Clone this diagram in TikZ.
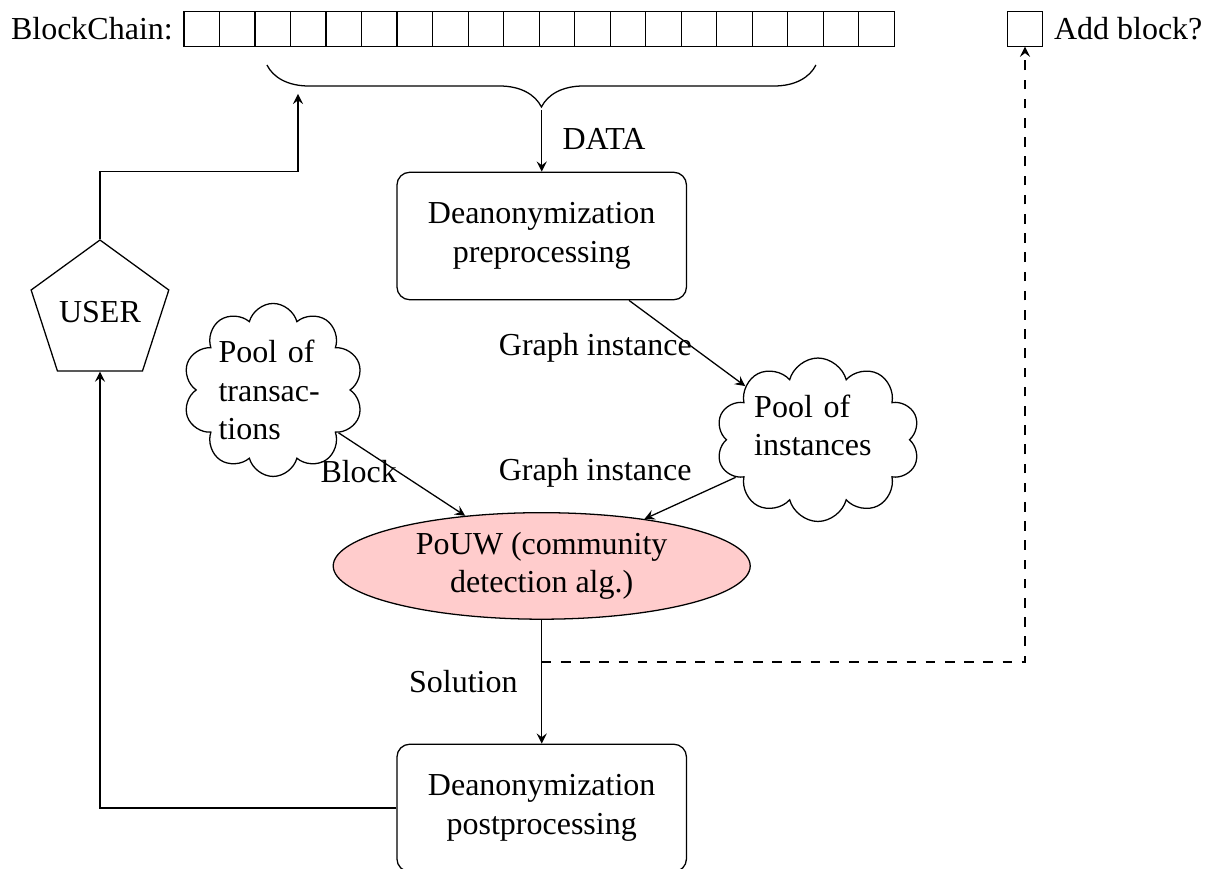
\documentclass[tikz,border=0pt]{standalone}
\usepackage{fontspec}
\setmainfont{Liberation Serif}
\usetikzlibrary{positioning,shapes.geometric,shapes.symbols,decorations.pathreplacing,calc,arrows}

\begin{document}
\begin{tikzpicture}[>=stealth,
  blk/.style={draw, minimum size=0.39cm, inner sep=0pt, outer sep=0pt},
  proc/.style={draw, rounded corners, align=center, minimum width=3.18cm, minimum height=1.4cm},
  pool/.style={draw, cloud, cloud puffs=10, cloud ignores aspect, inner sep=0pt, align=left}]
  \useasboundingbox (0,0) rectangle (13.356,-9.544);

  \node[blk] (b1) at (2.217,-0.318) {};
  \foreach \i in {2,...,20} {
    \pgfmathtruncatemacro{\j}{\i-1}
    \node[blk, right=0pt of b\j] (b\i) {};
  }
  \node (chainlbl) [left=0pt of b1] {BlockChain:};

  \node[blk] (addb) at (11.258,-0.318) {};
  \node (addlbl) [right=0pt of addb] {Add block?};

  \coordinate (bl) at (2.932,-0.714);
  \coordinate (br) at (8.962,-0.714);
  \coordinate (btip) at (5.95,-1.175);
  \coordinate (bin) at (3.273,-1.032);
  \draw [decorate, decoration={brace, mirror, amplitude=0.461cm}] (bl) -- (br);

  \node[proc] (pre) at (5.95,-2.592) {Deanonymization\\preprocessing};
  \node[proc] (post) at (5.95,-8.874) {Deanonymization\\postprocessing};

  \node[draw, regular polygon, regular polygon sides=5, minimum size=1.59cm, inner sep=0pt] (user) at (1.098,-3.431) {USER};

  \node[pool, text width=1.2cm, minimum width=1.9cm, minimum height=1.9cm] (trans) at (3.0,-4.283) {Pool of transactions};
  \node[pool, text width=1.4cm, text depth=21pt, minimum width=2.24cm, minimum height=1.78cm] (inst) at (8.984,-4.83) {Pool of instances};

  \node[draw, ellipse, fill=red!20, inner sep=1pt, align=center, minimum width=4.58cm, minimum height=1.17cm] (pouw) at (5.95,-6.216) {PoUW (community\\detection alg.)};

  \draw [->, shorten <=1pt] (btip) -- (pre) node[midway, right=3pt] {DATA};
  \draw [->] (user.corner 1) -- (user.corner 1 |- pre.north) -| (bin);
  \draw [->] (pre) -- (inst) node[midway, left=-5pt, yshift=-1.5pt] {Graph instance};
  \draw [->] (trans) -- (pouw) node[midway, left, xshift=2pt, yshift=1pt] {Block};
  \draw [->] (inst) -- (pouw) node[midway, above left, xshift=4pt] {Graph instance};
  \draw [->] (pouw) -- (post) node[midway, left=4pt] {Solution};
  \coordinate (split) at ($(pouw.south)!0.34!(post.north)$);
  \draw [dashed, ->] (split) -| (addb);
  \draw [->] (post) -| (user);

\end{tikzpicture}
\end{document}
